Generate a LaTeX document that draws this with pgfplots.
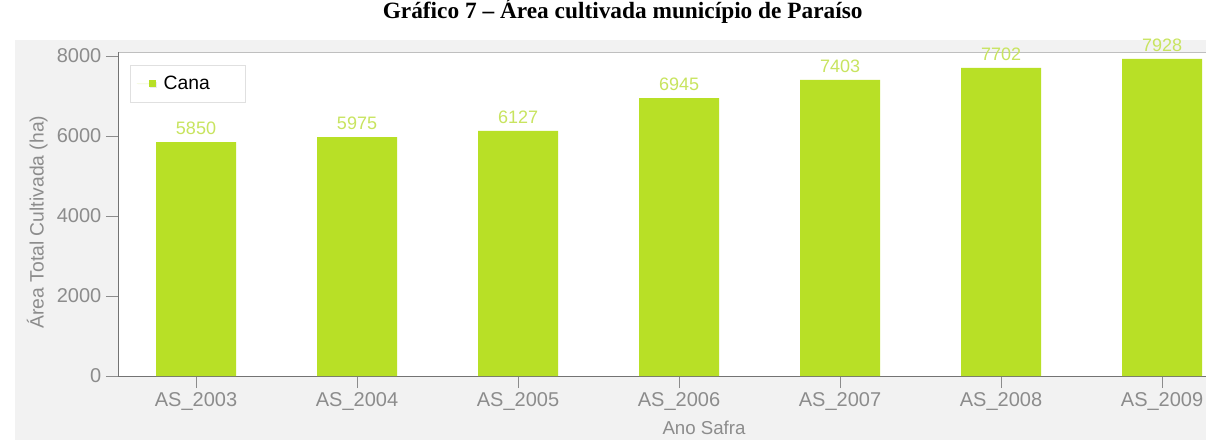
\documentclass[border=0pt]{standalone}
\usepackage{pgfplots}
\pgfplotsset{compat=1.18}
\usepackage{fontspec}
\setmainfont{Liberation Sans}
\newfontfamily\titlefont{Liberation Serif}
\usetikzlibrary{shadows}
\definecolor{barc}{RGB}{184,224,38}
\definecolor{valc}{RGB}{200,228,95}
\definecolor{tickc}{RGB}{140,140,140}
\definecolor{panel}{RGB}{242,242,242}
\begin{document}
\begin{tikzpicture}
\useasboundingbox (0,0) rectangle (904.5pt,333pt);
% panel background
\fill[panel] (11.25pt,3pt) rectangle (904.5pt,303pt);
\fill[white] (88.5pt,51pt) rectangle (904.5pt,294pt);
\draw[black!25] (88.5pt,294pt) -- (904.5pt,294pt);
\node[font=\titlefont\bfseries\fontsize{17.5}{19}\selectfont] at (467pt,324.5pt) {Gráfico 7 – Área cultivada município de Paraíso};
\begin{axis}[
  scale only axis,
  width=816pt, height=243pt,
  at={(88.5pt,51pt)}, anchor=south west,
  xmin=-0.4845, xmax=6.273,
  ymin=0, ymax=8100,
  axis x line*=bottom, axis y line*=left,
  axis line style={black!55},
  xtick=data,
  xticklabels={AS\_2003,AS\_2004,AS\_2005,AS\_2006,AS\_2007,AS\_2008,AS\_2009},
  ytick={0,2000,4000,6000,8000},
  tick align=outside,
  major tick length=9pt,
  tick style={black!45},
  ticklabel style={text=tickc, font=\fontsize{15}{16}\selectfont},
  /pgf/number format/assume math mode=true,
  /pgf/number format/1000 sep={},
  ylabel={Área Total Cultivada (ha)},
  ylabel style={text=tickc, font=\fontsize{14.5}{16}\selectfont, at={(ticklabel cs:0.5)}, xshift=-6pt},
  legend style={at={(0.011,0.96)}, anchor=north west, draw=black!12, fill=white,
     font=\fontsize{14.5}{16}\selectfont, inner xsep=5pt, inner ysep=6pt,
     drop shadow={shadow xshift=1pt, shadow yshift=-1pt, opacity=0.15},
     nodes={inner xsep=6pt}},
  legend image code/.code={\path (0pt,0pt) -- (9pt,0pt); \fill[barc] (9pt,-2.5pt) rectangle (14pt,2.5pt);},
  legend cell align=left,
  clip=false,
]
\addplot[ybar, bar width=60pt, fill=barc, draw=none,
  nodes near coords, nodes near coords style={text=valc, font=\fontsize{13.5}{15}\selectfont, yshift=2pt, /pgf/number format/1000 sep={}}]
  coordinates {(0,5850) (1,5975) (2,6127) (3,6945) (4,7403) (5,7702) (6,7928)};
\addlegendentry{\makebox[50pt][l]{Cana}}
\end{axis}
\node[text=tickc, font=\fontsize{14}{15}\selectfont] at (528pt,12.5pt) {Ano Safra};
\end{tikzpicture}
\end{document}
